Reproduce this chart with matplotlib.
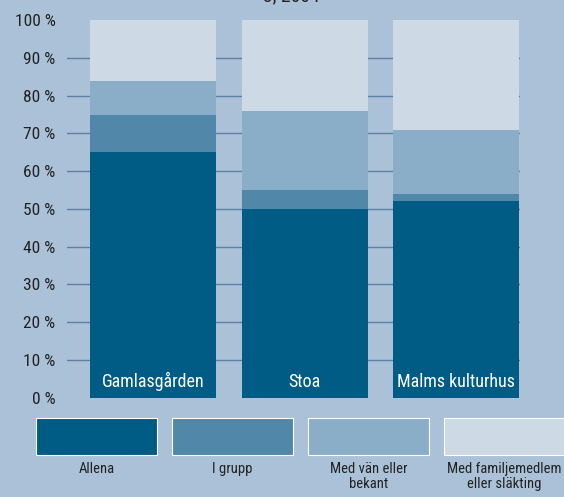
import matplotlib
matplotlib.use("Agg")
import matplotlib.pyplot as plt
from matplotlib.patches import Rectangle
from matplotlib import font_manager

places = ["Gamlasgården", "Stoa", "Malms kulturhus"]
allena = [65, 50, 52]
i_grupp = [10, 5, 2]
med_van = [9, 21, 17]
med_familj = [16, 24, 29]
series_names = ["Allena", "I grupp", "Med vän eller\nbekant", "Med familjemedlem\neller släkting"]
colors = ["#005c84", "#5188aa", "#8aaec8", "#cddae6"]
yticks = list(range(0, 101, 10))

installed = {f.name for f in font_manager.fontManager.ttflist}
fam = [f for f in ["Roboto Condensed", "Liberation Sans Narrow", "Roboto"] if f in installed] + ["DejaVu Sans"]
plt.rcParams["font.family"] = fam

fig = plt.figure(figsize=(5.64, 4.97), dpi=100)
fig.patch.set_facecolor("#aac1d7")

ax = fig.add_axes([0.118, 0.1997, 0.804, 0.7596])
ax.set_facecolor("none")

x = range(len(places))
bottom = [0, 0, 0]
for vals, c in zip([allena, i_grupp, med_van, med_familj], colors):
    ax.bar(x, vals, width=0.832, bottom=bottom, color=c, zorder=3)
    bottom = [b + v for b, v in zip(bottom, vals)]

for i, name in enumerate(places):
    ax.text(i, 2.9, name, color="white", ha="center", va="baseline", fontsize=13, zorder=4)

ax.set_xlim(-0.571, 2.422)
ax.set_ylim(0, 100)
ax.set_yticks(yticks)
ax.set_yticklabels([f"{t} %" for t in yticks], fontsize=12.5, color="#222222")
ax.set_xticks([])
ax.tick_params(axis="y", length=0, pad=8)
for t in yticks[1:-1]:
    ax.axhline(t, color="#5e7fa8", lw=1, zorder=1)
for s in ax.spines.values():
    s.set_visible(False)

# title, cut off at the top like in the source
fig.text(0.516, 1.008, "3, 2004", ha="center", va="center", fontsize=14, color="#222222")

# legend boxes under the chart
box_w, box_h = 121 / 564, 37 / 497
for k, (lab, c) in enumerate(zip(series_names, colors)):
    x0 = (36 + k * 136) / 564
    y0 = 1 - 455 / 497
    fig.patches.append(Rectangle((x0, y0), box_w, box_h, transform=fig.transFigure,
                                 facecolor=c, edgecolor="white", lw=0.8))
    fig.text(x0 + box_w / 2, 1 - 462 / 497, lab, ha="center", va="top",
             fontsize=10.5, color="#222222", linespacing=1.1)

fig.savefig("out.png", dpi=100, facecolor=fig.get_facecolor())
